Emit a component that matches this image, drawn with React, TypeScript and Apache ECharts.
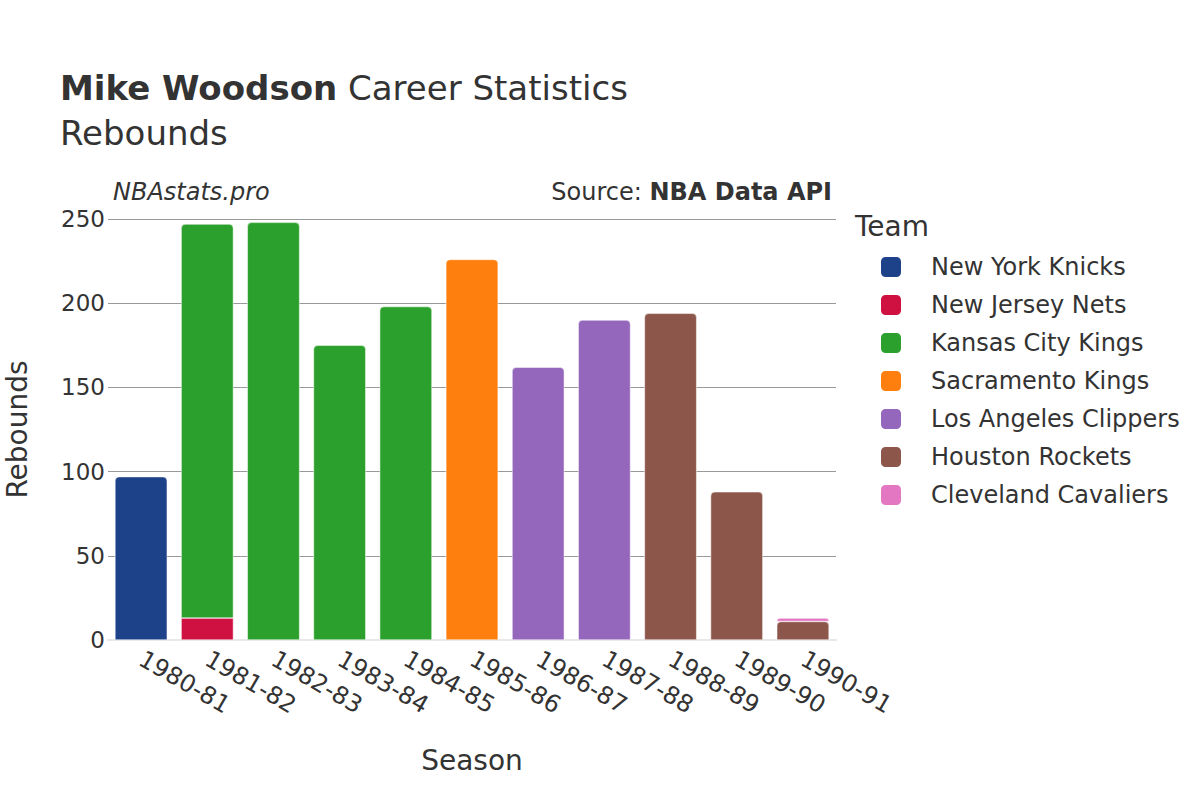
import React, { useEffect, useRef } from "react";
import * as echarts from "echarts";

const seasons = ["1980-81","1981-82","1982-83","1983-84","1984-85","1985-86","1986-87","1987-88","1988-89","1989-90","1990-91"];
const teams = ["New York Knicks","New Jersey Nets","Kansas City Kings","Sacramento Kings","Los Angeles Clippers","Houston Rockets","Cleveland Cavaliers"];
const colors = ["#1d428a","#ce1141","#2ca02c","#ff7f0e","#9467bd","#8c564b","#e377c2"];
const knicks = [97,null,null,null,null,null,null,null,null,null,null];
const nets = [null,13,null,null,null,null,null,null,null,null,null];
const kcKings = [null,234,248,175,198,null,null,null,null,null,null];
const sacKings = [null,null,null,null,null,226,null,null,null,null,null];
const clippers = [null,null,null,null,null,null,162,190,null,null,null];
const rockets = [null,null,null,null,null,null,null,null,194,88,11];
const cavs = [null,null,null,null,null,null,null,null,null,null,2];
const seriesValues = [knicks, nets, kcKings, sacKings, clippers, rockets, cavs];
const yTicks = [0, 50, 100, 150, 200, 250];

const FONT = "DejaVu Sans";

export default function App() {
  const ref = useRef<HTMLDivElement>(null);
  useEffect(() => {
    if (!ref.current) return;
    const chart = echarts.init(ref.current, null, { renderer: "svg" });
    chart.setOption({
      animation: false,
      backgroundColor: "#fff",
      textStyle: { fontFamily: FONT },
      title: [
        {
          text: "{b|Mike Woodson} Career Statistics",
          left: 60,
          top: 71,
          padding: 0,
          textStyle: {
            fontFamily: FONT,
            fontSize: 34,
            fontWeight: "normal",
            color: "#333",
            rich: { b: { fontFamily: FONT, fontSize: 34, fontWeight: "bold", color: "#333" } },
          },
        },
        {
          text: "Rebounds",
          left: 60,
          top: 116,
          padding: 0,
          textStyle: { fontFamily: FONT, fontSize: 34, fontWeight: "normal", color: "#333" },
        },
      ],
      graphic: [
        { type: "text", left: 113, top: 180, style: { text: "NBAstats.pro", font: `italic 24px '${FONT}'`, fill: "#333" } },
        {
          type: "text", right: 368, top: 180,
          style: {
            text: "Source: {b|NBA Data API}",
            font: `24px '${FONT}'`, fill: "#333",
            rich: { b: { fontFamily: FONT, fontSize: 24, fontWeight: "bold", fill: "#333" } },
          },
        },
        { type: "text", left: 855, top: 212, style: { text: "Team", font: `28px '${FONT}'`, fill: "#333" } },
      ],
      legend: {
        orient: "vertical",
        left: 879,
        top: 255,
        padding: 0,
        itemWidth: 22,
        itemHeight: 22,
        itemGap: 14,
        icon: "roundRect",
        data: teams,
        textStyle: { fontFamily: FONT, fontSize: 24, color: "#333", padding: [0, 0, 0, 24] },
      },
      grid: { left: 108, right: 364, top: 219, bottom: 160, containLabel: false, outerBoundsMode: "none" },
      xAxis: {
        type: "category",
        data: seasons,
        name: "Season",
        nameLocation: "middle",
        nameGap: 106,
        nameTextStyle: { fontFamily: FONT, fontSize: 28, color: "#333" },
        axisLine: { show: true, lineStyle: { color: "#e8e8e8", width: 2 } },
        axisTick: { show: false },
        axisLabel: { rotate: -30, fontFamily: FONT, fontSize: 24, color: "#333", margin: 17 },
      },
      yAxis: {
        type: "value",
        min: yTicks[0],
        max: yTicks[yTicks.length - 1],
        interval: 50,
        name: "Rebounds",
        nameLocation: "middle",
        nameGap: 77,
        nameTextStyle: { fontFamily: FONT, fontSize: 28, color: "#333" },
        axisLine: { show: false },
        axisTick: { show: false },
        splitLine: { lineStyle: { color: "#999", width: 1 } },
        axisLabel: { fontFamily: FONT, fontSize: 23, color: "#333", margin: 3 },
      },
      series: teams.map((t, i) => ({
        name: t,
        type: "bar",
        stack: "total",
        barWidth: "79%",
        data: seriesValues[i],
        itemStyle: {
          color: colors[i],
          borderColor: "#fff",
          borderWidth: 0.5,
          borderRadius: i === 1 ? 0 : [4, 4, 0, 0],
        },
      })),
    });
    return () => chart.dispose();
  }, []);
  return <div ref={ref} style={{ width: 1200, height: 800, position: "absolute", left: 0, top: 0 }} />;
}
